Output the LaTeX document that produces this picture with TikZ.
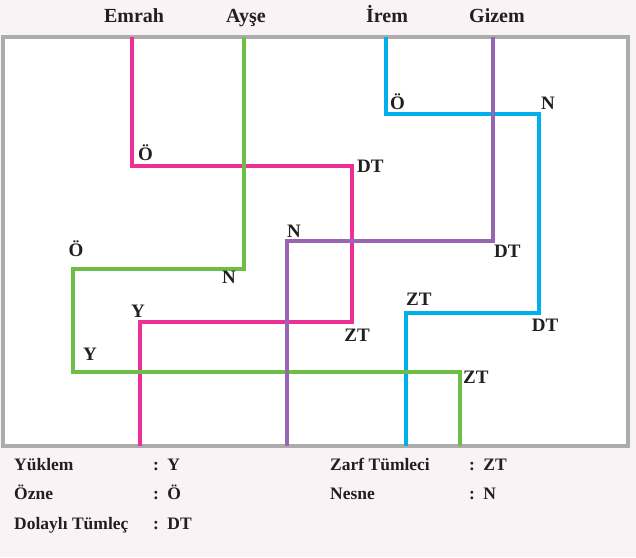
\documentclass[tikz,border=0pt]{standalone}
\usepackage{fontspec}
\setmainfont{Liberation Serif}
\usepackage{tikz}
\usetikzlibrary{positioning}
\definecolor{pagebg}{RGB}{250,243,245}
\definecolor{framegray}{RGB}{172,172,172}
\definecolor{inkdark}{RGB}{35,31,32}
\definecolor{emrahpink}{RGB}{238,48,150}
\definecolor{aysegreen}{RGB}{108,190,69}
\definecolor{iremblue}{RGB}{0,176,236}
\definecolor{gizempurple}{RGB}{150,102,178}
\tikzset{route/.style={line width=4pt, line join=miter}}
\tikzset{person/.style={anchor=base, inner sep=0pt, text=inkdark,
    font=\bfseries\fontsize{20}{22}\selectfont}}
\tikzset{tag/.style={inner sep=0pt, text=inkdark,
    font=\bfseries\fontsize{19}{21}\selectfont}}
\tikzset{key/.style={inner sep=0pt, text=inkdark,
    font=\bfseries\fontsize{17.5}{20}\selectfont}}

\begin{document}
\begin{tikzpicture}[x=1pt, y=-1pt]
  \fill[pagebg] (0,0) rectangle (636,557);
  \useasboundingbox (0,0) rectangle (636,557);
  \draw[line width=4pt, framegray, fill=white] (3,37) rectangle (628,446);

  % names on top
  \node[person] (emrah) at (134,22) {Emrah};
  \node[person] (ayse) at (246,22) {Ayşe};
  \node[person] (irem) at (387,22) {İrem};
  \node[person] (gizem) at (497,22) {Gizem};

  % corners of each route
  \coordinate (e0) at (132,37);  \coordinate (e1) at (132,166);
  \coordinate (e2) at (352,166); \coordinate (e3) at (352,322);
  \coordinate (e4) at (140,322); \coordinate (e5) at (140,446);
  \coordinate (a0) at (244,37);  \coordinate (a1) at (244,269);
  \coordinate (a2) at (73,269);  \coordinate (a3) at (73,372);
  \coordinate (a4) at (460,372); \coordinate (a5) at (460,446);
  \coordinate (i0) at (386,37);  \coordinate (i1) at (386,114);
  \coordinate (i2) at (539,114); \coordinate (i3) at (539,313);
  \coordinate (i4) at (406,313); \coordinate (i5) at (406,446);
  \coordinate (g0) at (493,37);  \coordinate (g1) at (493,241);
  \coordinate (g2) at (287,241); \coordinate (g3) at (287,446);

  \draw[route, iremblue] (i0) -- (i1) -- (i2) -- (i3) -- (i4) -- (i5);
  \draw[route, emrahpink] (e0) -- (e1) -- (e2) -- (e3) -- (e4) -- (e5);
  \draw[route, aysegreen] (a0) -- (a1) -- (a2) -- (a3) -- (a4) -- (a5);
  \draw[route, gizempurple] (g0) -- (g1) -- (g2) -- (g3);

  % labels at the corners
  \node[tag, above right=5pt and 6pt of e1] (eO) {Ö};
  \node[tag, right=5pt of e2] (eDT) {DT};
  \node[tag, below=7pt of e3, xshift=5pt] (eZT) {ZT};
  \node[tag, above=4pt of e4, xshift=-2pt] (eY) {Y};
  \node[tag, below left=2pt and 8pt of a1] (aN) {N};
  \node[tag, above=12pt of a2, xshift=3pt] (aO) {Ö};
  \node[tag, above right=11pt and 10pt of a3] (aY) {Y};
  \node[tag, right=3pt of a4, yshift=-5pt] (aZT) {ZT};
  \node[tag, above right=4pt and 4pt of i1] (iO) {Ö};
  \node[tag, above right=4pt and 2pt of i2] (iN) {N};
  \node[tag, below=6pt of i3, xshift=6pt] (iDT) {DT};
  \node[tag, above right=7pt and 0pt of i4] (iZT) {ZT};
  \node[tag, above right=3pt and 0pt of g2] (gN) {N};
  \node[tag, below right=4pt and 1pt of g1] (gDT) {DT};

  % legend
  \foreach \txt/\abbr [count=\i] in {Yüklem/Y, Özne/Ö, Dolaylı Tümleç/DT} {
    \node[key, anchor=base west] (left\i) at (14,{440.5+29.5*\i}) {\txt};
    \node[key, anchor=base west] (lcolon\i) at (153,{440.5+29.5*\i}) {:};
    \node[key, base right=8pt of lcolon\i] (lval\i) {\abbr};
  }
  \foreach \txt/\abbr [count=\i] in {Zarf Tümleci/ZT, Nesne/N} {
    \node[key, anchor=base west] (right\i) at (330,{440.5+29.5*\i}) {\txt};
    \node[key, anchor=base west] (rcolon\i) at (469,{440.5+29.5*\i}) {:};
    \node[key, base right=8pt of rcolon\i] (rval\i) {\abbr};
  }
\end{tikzpicture}
\end{document}
